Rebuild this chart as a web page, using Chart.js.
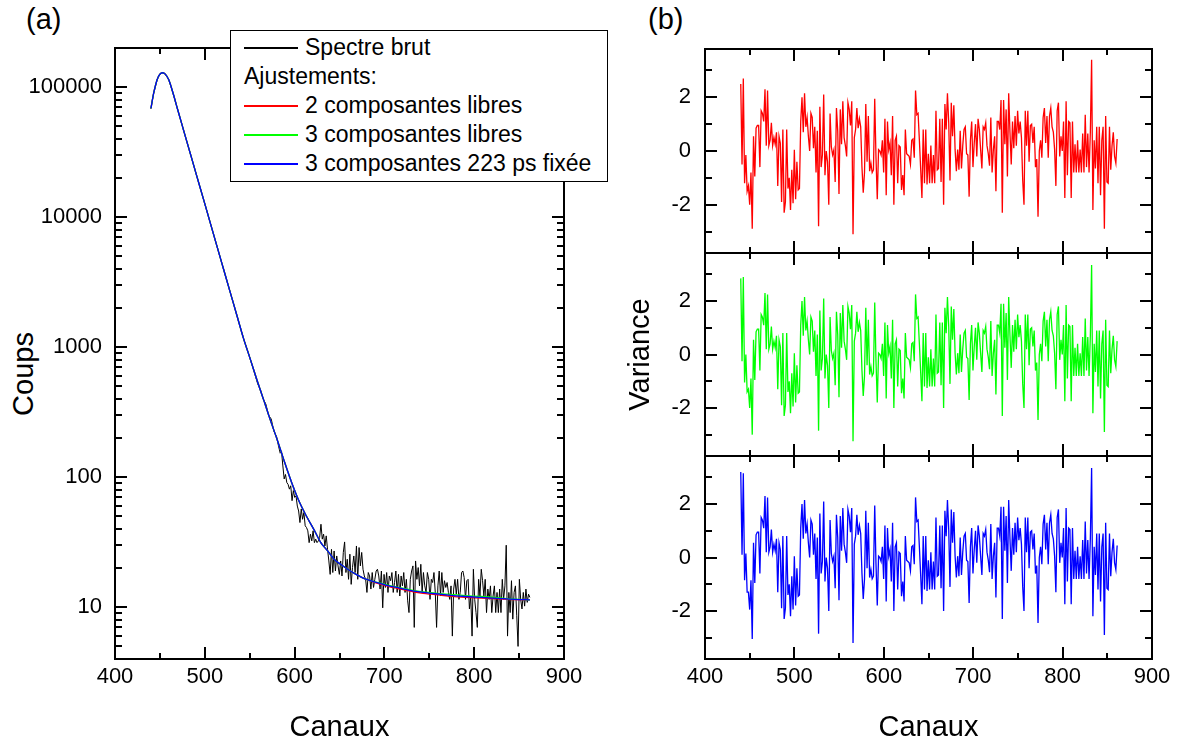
<!DOCTYPE html>
<html>
<head>
<meta charset="utf-8">
<script src="https://cdn.jsdelivr.net/npm/chart.js@4.4.1/dist/chart.umd.min.js"></script>
<style>
  body { margin: 0; width: 1178px; height: 742px; position: relative; overflow: hidden; background: #fff;
         font-family: "Liberation Sans", Arial, sans-serif; color: #000; }
  canvas { position: absolute; }
  .tag { position: absolute; top: 5px; font-size: 29px; line-height: 29px; }
  #coups { position: absolute; left: -37px; top: 359px; width: 120px; height: 30px; line-height: 30px;
           font-size: 29px; text-align: center; transform: rotate(-90deg); }
  #legend { position: absolute; left: 230px; top: 30px; width: 378px; height: 152px; box-sizing: border-box;
            border: 1px solid #000; background: #fff; padding-top: 2px; font-size: 23px; z-index: 5; }
  #legend .row { height: 29px; line-height: 29px; display: flex; align-items: center; padding-left: 13px; white-space: nowrap; }
  #legend .sw { display: inline-block; width: 54px; height: 2px; margin-right: 7px; }
</style>
</head>
<body>
<div class="tag" style="left:26px">(a)</div>
<div class="tag" style="left:648px">(b)</div>
<div id="coups">Coups</div>

<canvas id="spec" width="600" height="742" style="left:0;top:0"></canvas>
<canvas id="resTop" width="593" height="742" style="left:585px;top:0"></canvas>
<canvas id="resMid" width="593" height="742" style="left:585px;top:0"></canvas>
<canvas id="resBot" width="593" height="742" style="left:585px;top:0"></canvas>

<div id="legend">
  <div class="row"><span class="sw" style="background:#000000"></span>Spectre brut</div>
  <div class="row">Ajustements:</div>
  <div class="row"><span class="sw" style="background:#ff0000"></span>2 composantes libres</div>
  <div class="row"><span class="sw" style="background:#00ff00"></span>3 composantes libres</div>
  <div class="row"><span class="sw" style="background:#0000ff"></span>3 composantes 223 ps fixée</div>
</div>

<script>
// axis ticks
const channelTicks = [400, 500, 600, 700, 800, 900]
const channelMinor = [450, 550, 650, 750, 850]
const countTicks = [10, 100, 1000, 10000, 100000]
const varianceTicks = [-2, 0, 2]
const varianceMinor = [-3, -1, 1, 3]

// fitted curves (counts per channel)
const fitChannels = [440, 443, 447, 450, 453, 456, 460, 465, 470, 476, 484, 491, 499, 506, 514, 521, 528, 536, 543, 551,
  558, 566, 573, 581, 588, 597, 606, 614, 622, 629, 637, 644, 652, 659, 668, 677, 686, 696, 705, 714,
  724, 733, 743, 752, 762, 771, 790, 808, 826, 845, 862]
const fitTwoFree = [68500, 89400, 114600, 126000, 129000, 126000, 113500, 88100, 66400, 47600, 30600, 20800, 13400, 9080, 5830, 3960, 2690, 1730, 1175, 795,
  562, 385, 275, 191, 136, 90, 63, 49, 39, 31.6, 27, 23.4, 21.2, 19.6, 18, 16.7, 15.8, 15.0, 14.4, 14.0,
  13.5, 13.1, 12.8, 12.6, 12.4, 12.2, 11.9, 11.75, 11.6, 11.45, 11.4]
const fitThreeFree = [68500, 89400, 114600, 126000, 129000, 126000, 113500, 88100, 66400, 47600, 30600, 20800, 13400, 9080, 5830, 3960, 2690, 1730, 1175, 795,
  562, 385, 275, 191, 136, 90, 63, 49, 39, 31.6, 27, 23.4, 21.2, 19.6, 18, 16.7, 15.9, 15.3, 14.7, 14.3,
  13.85, 13.45, 13.15, 12.95, 12.75, 12.6, 12.3, 12.1, 11.85, 11.55, 11.4]
const fitThreeFixed = [68500, 89400, 114600, 126000, 129000, 126000, 113500, 88100, 66400, 47600, 30600, 20800, 13400, 9080, 5830, 3960, 2690, 1730, 1175, 795,
  562, 385, 275, 191, 136, 90, 63, 49, 39, 31.6, 27, 23.4, 21.2, 19.6, 18, 16.7, 15.9, 15.2, 14.6, 14.2,
  13.7, 13.3, 13.0, 12.8, 12.6, 12.4, 12.1, 11.9, 11.7, 11.5, 11.4]

// raw spectrum: smooth head read at given channels, noisy tail read evenly from 584 to 862
const rawHeadChannels = [440, 443, 447, 450, 453, 456, 460, 465, 470, 476, 484, 491, 499, 506, 514, 521, 528, 536, 543, 548,
  551, 554, 557, 559, 562, 565, 568, 571, 574, 577, 580, 582]
const rawHeadCounts = [68500, 89400, 114600, 126000, 129000, 126000, 113500, 88100, 66400, 47600, 30600, 20800, 13400, 9080, 5830, 3960, 2690, 1730, 1175, 930,
  795, 680, 580, 520, 470, 400, 365, 300, 280, 225, 205, 175]
const rawTailFirst = 584
const rawTailLast = 862
const rawTailCounts = [
  153, 157, 122, 97, 105, 91, 88, 81, 86, 66,
  79, 70, 72, 60, 55, 44.8, 57, 47.5, 53.5, 42.3,
  41, 38.7, 31.4, 36.5, 32.4, 38.7, 31.4, 33.4, 31.4, 32.4,
  34.4, 43.5, 33.4, 36.5, 29.6, 35.4, 27.9, 22.7, 17.9, 27.9,
  18.5, 27.1, 19, 24.8, 20.8, 17.9, 22.7, 17.4, 26.4, 31.8,
  18.5, 23.4, 16.4, 25.6, 15, 20.2, 24.8, 18.5, 29.6, 16.4,
  28.8, 20.8, 26.4, 19.6, 17.4, 16.4, 13, 18.5, 17.4, 13.8,
  18.5, 14.2, 16.4, 19, 19.6, 17.4, 13.8, 19, 9.9, 17.9,
  14.2, 18.5, 13, 17.4, 16, 18.5, 13, 15.5, 19, 13,
  17.9, 12.2, 17.4, 14.6, 18.5, 13, 16.4, 11.2, 9.1, 16.4,
  19, 20.8, 7.0, 22.7, 16.4, 20.2, 14.6, 21.4, 13, 18.5,
  14.6, 13, 18.5, 16.4, 11.5, 16.4, 15.5, 18.5, 13, 7.0,
  14.6, 19, 12.2, 18.5, 13, 16, 14.2, 15.5, 13, 11.5,
  14.6, 6.0, 13.8, 16.4, 12.6, 16.4, 11.5, 13, 18.5, 19,
  16.9, 11.5, 16, 16.4, 9.7, 12.2, 6.0, 19.6, 11.5, 9.1,
  7.0, 16.4, 12.2, 19.6, 16, 12.2, 16.4, 9.1, 13.8, 11.5,
  14.6, 9.1, 12.2, 14.6, 9.1, 13, 9.1, 13.8, 9.1, 16.4,
  11.5, 14.6, 30, 6.0, 13, 9.1, 16, 8.1, 13, 14.6,
  8.6, 5.0, 16.4, 11.5, 9.7, 13, 10.2, 13.8, 10.9, 12.6,
  11.9]

// residuals, read evenly from channel 440 to 861
const resFirst = 440
const resLast = 861
const resTwoFree = [
  2.5, -0.5, 2.7, -1.2, -0.15, -1.5, -1.3, -2.0, -0.8, -2.9,
  0.55, -0.95, 0.85, 0.95, 0.95, -0.6, 1.5, 1.4, 1.1, 2.3,
  0.2, 2.25, 0.2, 0.4, 1.05, 0.2, 0.5, 0.25, 0.7, -1.3,
  0.55, 0.3, -1.9, 0.8, -2.3, -1.9, 0.8, -1.4, -1.0, -2.2,
  -0.7, -1.95, 0.05, -1.8, -0.4, -1.45, -1.4, 1.1, 2.0, 0.7,
  2.15, 0.9, 1.25, 0.55, 0, 1.4, 1.25, 0.1, 0.9, -0.8,
  0.75, -2.8, 1.65, -0.6, -0.15, 2.1, -0.9, 0, -0.4, -2.0,
  1.4, 0.15, -0.15, 0.05, -1.15, 1.6, 0.75, -1.6, 1.55, 0.25,
  1.85, 0.5, 0.2, -0.2, 1.8, 1.55, 0.95, 1.85, -3.1, 0.5,
  0.8, 1.6, 0.85, 1.2, 0.9, -0.6, -1.55, -0.8, 1.75, -0.4,
  1.3, -0.75, -0.45, -0.8, -0.7, 1.95, -0.25, -1.8, 0.05, 0,
  -0.15, 0.4, -0.8, 1.2, -1.65, 1.1, 0.05, 0.3, -0.9, 1.3,
  -2.0, 0.4, 0.55, -1.2, 0.2, 0.15, -1.45, -0.9, -1.65, 0.8,
  -0.1, -0.15, -0.2, -0.5, 0.4, 0.45, -0.25, 2.25, 1.35, 1.4,
  0.4, -0.65, -1.75, 0.8, -1.2, 0.8, -1.25, -0.1, -1.2, 0.2,
  -1.2, -0.15, -1.2, 1.5, -0.7,
  -0.65, 1.2, -1.15, 1.2, -2.0, 1.75, 0.8, 2.15, 1.05, -1.1,
  1.8, 0.55, 1.7, 0.05, -0.75, 0.05, -0.7, 0.75, -0.65, 0.2,
  0.8, 0.9, -0.1, -0.15, -1.7, 0.4, 1.1, -0.6, 0.3, 1.0,
  -0.2, 1.2, 0.8, 0.05, -0.65, 0.9, 0.8, 1.05, 0.2, -0.1,
  -0.55, 1.25, -0.8, 0.05, 0.55, -1.5, 1.1, 1.1, 0.8, 1.9,
  -2.3, 1.9, 0.25, 1.55, -0.95, 2.15, 0.7, -0.5, 1.1, 0.1,
  1.3, 0.2, 1.5, 0.65, 1.1, 0.5, -1.1, -2.0, 1.5, 0.2,
  1.5, -0.4, 0.95, 1.0, 0.3, 0.9, -0.6, -0.3, -2.45, 0,
  0.4, -0.25, 1.25, 1.6, 0.3, 1.3, -0.25, 1.3, 1.6, 0.9,
  0.7, 0.05, -1.3, 1.5, 1.8, -0.2, 0.55, 0, 1.1, -1.75,
  1.85, -0.9, 1.1, 1.05, -1.75, 1.1, -0.8, 0.25, -0.8, 0.4,
  -0.8, 0.05, -0.8, 0.65, -0.8, 1.35, -0.6, 0.65, -0.8, 0.7,
  3.4, -2.2, 0.4, -0.65, 0.9, -1.2, 0.9, -1.65, 0.4, 0.9,
  -2.9, 1.3, -1.15, -1.2, 0.9, -0.7, 0.2, 0.7, -0.2, -0.45,
  0.45]
const resThreeFree = [
  2.85, -0.25, 2.9, -1.05, 0, -1.4, -1.3, -2.0, -0.9, -3.0,
  0.55, -0.95, 0.85, 0.95, 0.95, -0.6, 1.5, 1.4, 1.1, 2.3,
  0.2, 2.25, 0.2, 0.4, 1.05, 0.2, 0.5, 0.25, 0.7, -1.3,
  0.55, 0.3, -1.9, 0.8, -2.3, -1.9, 0.8, -1.4, -1.0, -2.2,
  -0.7, -1.95, 0.05, -1.8, -0.4, -1.45, -1.4, 1.1, 2.0, 0.7,
  2.15, 0.9, 1.25, 0.55, 0, 1.4, 1.25, 0.1, 0.9, -0.8,
  0.75, -2.85, 1.65, -0.6, -0.15, 2.1, -0.9, 0, -0.4, -2.0,
  1.4, 0.15, -0.15, 0.05, -1.15, 1.6, 0.75, -1.6, 1.55, 0.25,
  1.85, 0.5, 0.2, -0.2, 1.8, 1.55, 0.95, 1.85, -3.25, 0.5,
  0.8, 1.6, 0.85, 1.2, 0.9, -0.6, -1.55, -0.8, 1.75, -0.4,
  1.3, -0.75, -0.45, -0.8, -0.7, 1.95, -0.25, -1.8, 0.05, 0,
  -0.15, 0.4, -0.8, 1.2, -1.65, 1.1, 0.05, 0.3, -0.9, 1.3,
  -2.0, 0.4, 0.55, -1.2, 0.2, 0.15, -1.45, -0.9, -1.65, 0.8,
  -0.1, -0.15, -0.2, -0.5, 0.4, 0.45, -0.25, 2.25, 1.35, 1.4,
  0.4, -0.65, -1.75, 0.8, -1.2, 0.8, -1.25, -0.1, -1.2, 0.2,
  -1.2, -0.15, -1.2, 1.5, -0.7,
  -0.65, 1.2, -1.15, 1.2, -2.0, 1.75, 0.8, 2.15, 1.05, -1.1,
  1.8, 0.55, 1.7, 0.05, -0.75, 0.05, -0.7, 0.75, -0.65, 0.2,
  0.8, 0.9, -0.1, -0.15, -1.7, 0.4, 1.1, -0.6, 0.3, 1.0,
  -0.2, 1.2, 0.8, 0.05, -0.65, 0.9, 0.8, 1.05, 0.2, -0.1,
  -0.55, 1.25, -0.8, 0.05, 0.55, -1.5, 1.1, 1.1, 0.8, 1.9,
  -2.3, 1.9, 0.25, 1.55, -0.95, 2.15, 0.7, -0.5, 1.1, 0.1,
  1.3, 0.2, 1.5, 0.65, 1.1, 0.5, -1.1, -2.0, 1.5, 0.2,
  1.5, -0.4, 0.95, 1.0, 0.3, 0.9, -0.6, -0.3, -2.45, 0,
  0.4, -0.25, 1.25, 1.6, 0.3, 1.3, -0.25, 1.3, 1.6, 0.9,
  0.7, 0.05, -1.3, 1.5, 1.8, -0.2, 0.55, 0, 1.1, -1.75,
  1.85, -0.9, 1.1, 1.05, -1.75, 1.1, -0.8, 0.25, -0.8, 0.4,
  -0.8, 0.05, -0.8, 0.65, -0.8, 1.35, -0.6, 0.65, -0.8, 0.7,
  3.35, -2.2, 0.4, -0.65, 0.9, -1.2, 0.9, -1.65, 0.4, 0.9,
  -2.9, 1.3, -1.15, -1.2, 0.9, -0.7, 0.2, 0.7, -0.2, -0.45,
  0.5]
const resThreeFixed = [
  3.2, 0.1, 3.15, -0.85, 0.15, -1.3, -1.3, -1.95, -0.85, -3.05,
  0.55, -0.95, 0.85, 0.95, 0.95, -0.6, 1.5, 1.4, 1.1, 2.3,
  0.2, 2.25, 0.2, 0.4, 1.05, 0.2, 0.5, 0.25, 0.7, -1.3,
  0.55, 0.3, -1.9, 0.8, -2.3, -1.9, 0.8, -1.4, -1.0, -2.2,
  -0.7, -1.95, 0.05, -1.8, -0.4, -1.45, -1.4, 1.1, 2.0, 0.7,
  2.15, 0.9, 1.25, 0.55, 0, 1.4, 1.25, 0.1, 0.9, -0.8,
  0.75, -2.85, 1.65, -0.6, -0.15, 2.1, -0.9, 0, -0.4, -2.0,
  1.4, 0.15, -0.15, 0.05, -1.15, 1.6, 0.75, -1.6, 1.55, 0.25,
  1.85, 0.5, 0.2, -0.2, 1.8, 1.55, 0.95, 1.85, -3.2, 0.5,
  0.8, 1.6, 0.85, 1.2, 0.9, -0.6, -1.55, -0.8, 1.75, -0.4,
  1.3, -0.75, -0.45, -0.8, -0.7, 1.95, -0.25, -1.8, 0.05, 0,
  -0.15, 0.4, -0.8, 1.2, -1.65, 1.1, 0.05, 0.3, -0.9, 1.3,
  -2.0, 0.4, 0.55, -1.2, 0.2, 0.15, -1.45, -0.9, -1.65, 0.8,
  -0.1, -0.15, -0.2, -0.5, 0.4, 0.45, -0.25, 2.25, 1.35, 1.4,
  0.4, -0.65, -1.75, 0.8, -1.2, 0.8, -1.25, -0.1, -1.2, 0.2,
  -1.2, -0.15, -1.2, 1.5, -0.7,
  -0.65, 1.2, -1.15, 1.2, -2.0, 1.75, 0.8, 2.15, 1.05, -1.1,
  1.8, 0.55, 1.7, 0.05, -0.75, 0.05, -0.7, 0.75, -0.65, 0.2,
  0.8, 0.9, -0.1, -0.15, -1.7, 0.4, 1.1, -0.6, 0.3, 1.0,
  -0.2, 1.2, 0.8, 0.05, -0.65, 0.9, 0.8, 1.05, 0.2, -0.1,
  -0.55, 1.25, -0.8, 0.05, 0.55, -1.5, 1.1, 1.1, 0.8, 1.9,
  -2.3, 1.9, 0.25, 1.55, -0.95, 2.15, 0.7, -0.5, 1.1, 0.1,
  1.3, 0.2, 1.5, 0.65, 1.1, 0.5, -1.1, -2.0, 1.5, 0.2,
  1.5, -0.4, 0.95, 1.0, 0.3, 0.9, -0.6, -0.3, -2.45, 0,
  0.4, -0.25, 1.25, 1.6, 0.3, 1.3, -0.25, 1.3, 1.6, 0.9,
  0.7, 0.05, -1.3, 1.5, 1.8, -0.2, 0.55, 0, 1.1, -1.75,
  1.85, -0.9, 1.1, 1.05, -1.75, 1.1, -0.8, 0.25, -0.8, 0.4,
  -0.8, 0.05, -0.8, 0.65, -0.8, 1.35, -0.6, 0.65, -0.8, 0.7,
  3.35, -2.2, 0.4, -0.65, 0.9, -1.2, 0.9, -1.65, 0.4, 0.9,
  -2.9, 1.3, -1.15, -1.2, 0.9, -0.7, 0.2, 0.7, -0.2, -0.45,
  0.45]

Chart.defaults.font.family = '"Liberation Sans", Arial, sans-serif'
Chart.defaults.color = '#000'

const tickFont = { size: 22 }
const titleFont = { size: 29, lineHeight: 1 }

// log minor ticks (2..9 per decade) inside the counts range
const countMinor = []
for (const d of [1, 10, 100, 1000, 10000]) {
  for (let k = 2; k <= 9; k++) if (k * d >= 4) countMinor.push(k * d)
}

const pairs = (xs, ys) => ys.map((y, i) => ({ x: xs[i], y: y }))
const spread = (ys, first, last) => ys.map((y, i) => ({ x: first + i * (last - first) / (ys.length - 1), y: y }))

// closed box with inward ticks on all four sides
const framePlugin = {
  id: 'frame',
  afterDatasetsDraw(chart, args, o) {
    const { ctx, chartArea: a } = chart
    const sx = chart.scales.x
    const sy = chart.scales.y
    ctx.save()
    ctx.strokeStyle = '#000'
    ctx.lineWidth = 2
    ctx.beginPath()
    const xMarks = (list, len) => list.forEach(v => {
      const p = Math.round(sx.getPixelForValue(v))
      ctx.moveTo(p, a.bottom); ctx.lineTo(p, a.bottom - len)
      ctx.moveTo(p, a.top); ctx.lineTo(p, a.top + len)
    })
    const yMarks = (list, len) => list.forEach(v => {
      const p = Math.round(sy.getPixelForValue(v))
      ctx.moveTo(a.left, p); ctx.lineTo(a.left + len, p)
      ctx.moveTo(a.right, p); ctx.lineTo(a.right - len, p)
    })
    xMarks(o.xMajor, 12)
    xMarks(o.xMinor, 6)
    yMarks(o.yMajor, 12)
    yMarks(o.yMinor, 7)
    ctx.stroke()
    ctx.strokeRect(a.left, a.top, a.right - a.left, a.bottom - a.top)
    ctx.restore()
  }
}

const lineSet = (label, data, color, width, order, smooth) => ({
  label: label,
  data: data,
  borderColor: color,
  borderWidth: width,
  pointRadius: 0,
  fill: false,
  order: order,
  cubicInterpolationMode: smooth ? 'monotone' : 'default',
  tension: 0
})

// x axis always laid out (fixed height); labels and title only on the lowest panel
const xAxis = (showLabels, height) => ({
  type: 'linear',
  min: 400,
  max: 900,
  afterBuildTicks: s => { s.ticks = channelTicks.map(v => ({ value: v })) },
  afterFit: s => { s.height = height },
  grid: { display: false, drawTicks: false },
  border: { display: false },
  ticks: { display: showLabels, font: tickFont, padding: 5, maxRotation: 0, autoSkip: false },
  title: { display: showLabels, text: 'Canaux', font: titleFont, padding: { top: 0, bottom: 0 } }
})

// (a) spectrum with fits, log counts
new Chart(document.getElementById('spec'), {
  type: 'line',
  data: {
    datasets: [
      lineSet('Spectre brut', pairs(rawHeadChannels, rawHeadCounts).concat(spread(rawTailCounts, rawTailFirst, rawTailLast)), '#000000', 1, 4, false),
      lineSet('2 composantes libres', pairs(fitChannels, fitTwoFree), '#ff0000', 1.3, 3, true),
      lineSet('3 composantes libres', pairs(fitChannels, fitThreeFree), '#00ff00', 1.3, 2, true),
      lineSet('3 composantes 223 ps fixée', pairs(fitChannels, fitThreeFixed), '#0000ff', 1.3, 1, true)
    ]
  },
  options: {
    responsive: false,
    animation: false,
    events: [],
    layout: { padding: { top: 48, right: 36, left: 0, bottom: 0 } },
    plugins: {
      legend: { display: false },
      tooltip: { enabled: false },
      frame: { xMajor: channelTicks, xMinor: channelMinor, yMajor: countTicks, yMinor: countMinor }
    },
    scales: {
      x: xAxis(true, 83),
      y: {
        type: 'logarithmic',
        min: 4,
        max: 200000,
        afterBuildTicks: s => { s.ticks = countTicks.map(v => ({ value: v })) },
        afterFit: s => { s.width = 115 },
        grid: { display: false, drawTicks: false },
        border: { display: false },
        ticks: { font: tickFont, padding: 13, callback: v => String(v) }
      }
    }
  },
  plugins: [framePlugin]
})

// (b) residual panels
function residualPanel(id, values, color, top, bottom, isLast, withTitle) {
  return new Chart(document.getElementById(id), {
    type: 'line',
    data: { datasets: [lineSet('variance', spread(values, resFirst, resLast), color, 1.3, 1, false)] },
    options: {
      responsive: false,
      animation: false,
      events: [],
      layout: { padding: { top: top, right: 26, left: 0, bottom: 0 } },
      plugins: {
        legend: { display: false },
        tooltip: { enabled: false },
        frame: { xMajor: channelTicks, xMinor: channelMinor, yMajor: varianceTicks, yMinor: varianceMinor }
      },
      scales: {
        x: xAxis(isLast, 742 - bottom),
        y: {
          type: 'linear',
          min: -3.8,
          max: 3.8,
          afterBuildTicks: s => { s.ticks = varianceTicks.map(v => ({ value: v })) },
          afterFit: s => { s.width = 120 },
          grid: { display: false, drawTicks: false },
          border: { display: false },
          ticks: { font: tickFont, padding: 14 },
          title: { display: withTitle, text: 'Variance', font: titleFont, padding: { top: 41, bottom: 0 } }
        }
      }
    },
    plugins: [framePlugin]
  })
}

residualPanel('resTop', resTwoFree, '#ff0000', 49, 253, false, false)
residualPanel('resMid', resThreeFree, '#00ff00', 253, 456, false, true)
residualPanel('resBot', resThreeFixed, '#0000ff', 456, 659, true, false)
</script>
</body>
</html>
